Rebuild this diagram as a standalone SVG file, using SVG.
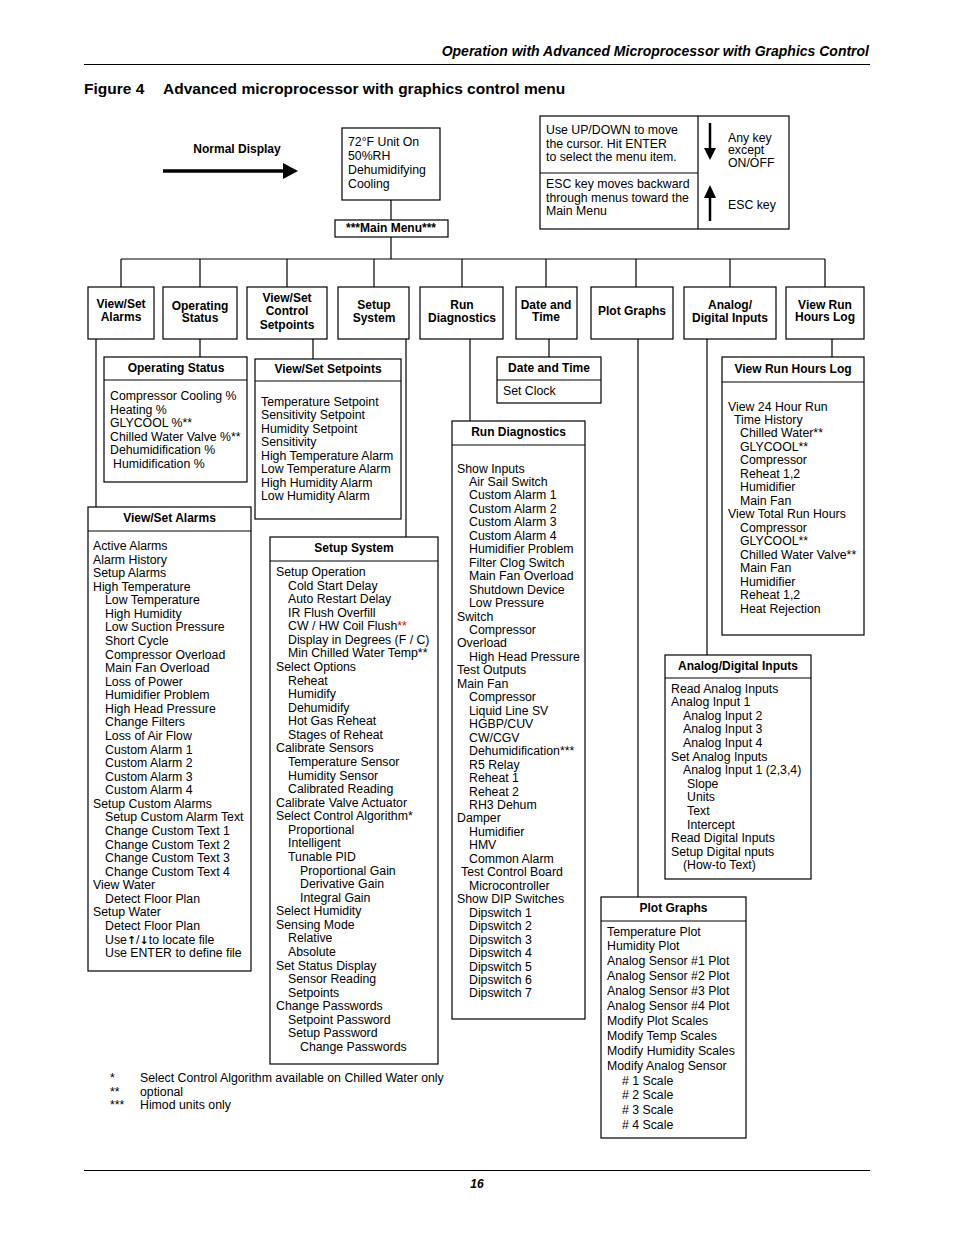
<svg xmlns="http://www.w3.org/2000/svg" width="954" height="1235" viewBox="0 0 954 1235">
<style>
.bg{fill:#fff}
.box{fill:#fff;stroke:#000;stroke-width:1.2}
.ln{fill:none;stroke:#000;stroke-width:1.2}
text{font-family:"Liberation Sans",Arial,Helvetica,sans-serif;font-size:12.3px;fill:#000}
.b{font-weight:bold;font-size:12px}
.c{text-anchor:middle}
.red{fill:#e00}
.arr{font-family:"DejaVu Sans",sans-serif;font-weight:bold;font-size:11px}
</style>
<rect class="bg" x="0" y="0" width="954" height="1235"/>

<!-- page header -->
<g id="page-header">
<text x="869" y="56" style="font-size:14px;font-weight:bold;font-style:italic;text-anchor:end">Operation with Advanced Microprocessor with Graphics Control</text>
<line x1="84" y1="64.5" x2="870" y2="64.5" stroke="#000" stroke-width="1"/>
<text x="84" y="94" style="font-size:15.5px;font-weight:bold">Figure 4</text>
<text x="163" y="94" style="font-size:15.5px;font-weight:bold">Advanced microprocessor with graphics control menu</text>
</g>

<!-- connectors -->
<g id="connectors" class="ln">
<line x1="163" y1="171" x2="285" y2="171" stroke-width="3.5"/>
<path d="M283,163 L298,171 L283,179 z" fill="#000" stroke="none"/>
<line x1="391" y1="200" x2="391" y2="220"/>
<line x1="391" y1="237" x2="391" y2="259"/>
<line x1="121" y1="259" x2="825" y2="259"/>
<line x1="121" y1="259" x2="121" y2="287"/>
<line x1="200" y1="259" x2="200" y2="287"/>
<line x1="287" y1="259" x2="287" y2="287"/>
<line x1="374" y1="259" x2="374" y2="287"/>
<line x1="462" y1="259" x2="462" y2="287"/>
<line x1="546" y1="259" x2="546" y2="287"/>
<line x1="636" y1="259" x2="636" y2="287"/>
<line x1="730" y1="259" x2="730" y2="287"/>
<line x1="825" y1="259" x2="825" y2="287"/>
<line x1="96" y1="339" x2="96" y2="507"/>
<line x1="200" y1="339" x2="200" y2="357"/>
<line x1="313" y1="339" x2="313" y2="359"/>
<line x1="406" y1="339" x2="406" y2="537"/>
<line x1="470" y1="339" x2="470" y2="421"/>
<line x1="549" y1="339" x2="549" y2="357"/>
<line x1="638" y1="339" x2="638" y2="897"/>
<line x1="707" y1="339" x2="707" y2="655"/>
<line x1="832" y1="339" x2="832" y2="357"/>
</g>

<!-- Normal display -->
<g id="normal-display">
<text x="237" y="153" class="b c">Normal Display</text>
</g>
<g id="display-box">
<rect class="box" x="342" y="128" width="98" height="72"/>
<text x="348" y="146">72°F Unit On</text>
<text x="348" y="160">50%RH</text>
<text x="348" y="174">Dehumidifying</text>
<text x="348" y="188">Cooling</text>
</g>
<g id="main-menu">
<rect class="box" x="335" y="220" width="113" height="17"/>
<text x="391" y="232" class="b c">***Main Menu***</text>
</g>

<!-- legend -->
<g id="legend">
<rect class="box" x="540" y="116" width="249" height="113"/>
<line class="ln" x1="698" y1="116" x2="698" y2="229"/>
<line class="ln" x1="540" y1="173" x2="698" y2="173"/>
<text x="546" y="134">Use UP/DOWN to move</text>
<text x="546" y="148">the cursor. Hit ENTER</text>
<text x="546" y="161">to select the menu item.</text>
<text x="546" y="188">ESC key moves backward</text>
<text x="546" y="202">through menus toward the</text>
<text x="546" y="215">Main Menu</text>
<line x1="710" y1="123" x2="710" y2="150" stroke="#000" stroke-width="2.5"/>
<path d="M704,148 L710,160 L716,148 z" fill="#000"/>
<line x1="710" y1="221" x2="710" y2="196" stroke="#000" stroke-width="2.5"/>
<path d="M704,198 L710,185 L716,198 z" fill="#000"/>
<text x="728" y="142">Any key</text>
<text x="728" y="154">except</text>
<text x="728" y="167">ON/OFF</text>
<text x="728" y="209">ESC key</text>
</g>

<!-- main menu items -->
<g id="m-alarms">
<rect class="box" x="88" y="287" width="66" height="52"/>
<text x="121" y="308" class="b c">View/Set</text>
<text x="121" y="321" class="b c">Alarms</text>
</g>
<g id="m-opstatus">
<rect class="box" x="163" y="287" width="74" height="52"/>
<text x="200" y="310" class="b c">Operating</text>
<text x="200" y="322" class="b c">Status</text>
</g>
<g id="m-setpoints">
<rect class="box" x="247" y="287" width="80" height="52"/>
<text x="287" y="302" class="b c">View/Set</text>
<text x="287" y="315" class="b c">Control</text>
<text x="287" y="329" class="b c">Setpoints</text>
</g>
<g id="m-setup">
<rect class="box" x="338" y="287" width="71" height="52"/>
<text x="374" y="309" class="b c">Setup</text>
<text x="374" y="322" class="b c">System</text>
</g>
<g id="m-rundiag">
<rect class="box" x="420" y="287" width="83" height="52"/>
<text x="462" y="309" class="b c">Run</text>
<text x="462" y="322" class="b c">Diagnostics</text>
</g>
<g id="m-datetime">
<rect class="box" x="516" y="287" width="61" height="52"/>
<text x="546" y="309" class="b c">Date and</text>
<text x="546" y="321" class="b c">Time</text>
</g>
<g id="m-plot">
<rect class="box" x="591" y="287" width="82" height="52"/>
<text x="632" y="315" class="b c">Plot Graphs</text>
</g>
<g id="m-analog">
<rect class="box" x="684" y="287" width="92" height="52"/>
<text x="730" y="309" class="b c">Analog/</text>
<text x="730" y="322" class="b c">Digital Inputs</text>
</g>
<g id="m-runhours">
<rect class="box" x="786" y="287" width="78" height="52"/>
<text x="825" y="309" class="b c">View Run</text>
<text x="825" y="321" class="b c">Hours Log</text>
</g>

<!-- Operating Status sub -->
<g id="s-opstatus">
<rect class="box" x="104" y="357" width="143" height="125"/>
<line class="ln" x1="104" y1="380" x2="247" y2="380"/>
<text x="176" y="372" class="b c">Operating Status</text>
<text y="400">
<tspan x="110">Compressor Cooling %</tspan>
<tspan x="110" dy="13.6">Heating %</tspan>
<tspan x="110" dy="13.6">GLYCOOL %**</tspan>
<tspan x="110" dy="13.6">Chilled Water Valve %**</tspan>
<tspan x="110" dy="13.6">Dehumidification %</tspan>
<tspan x="113" dy="13.6">Humidification %</tspan>
</text>
</g>

<!-- View/Set Setpoints sub -->
<g id="s-setpoints">
<rect class="box" x="255" y="359" width="146" height="160"/>
<line class="ln" x1="255" y1="381" x2="401" y2="381"/>
<text x="328" y="373" class="b c">View/Set Setpoints</text>
<text y="405.5">
<tspan x="261">Temperature Setpoint</tspan>
<tspan x="261" dy="13.57">Sensitivity Setpoint</tspan>
<tspan x="261" dy="13.57">Humidity Setpoint</tspan>
<tspan x="261" dy="13.57">Sensitivity</tspan>
<tspan x="261" dy="13.57">High Temperature Alarm</tspan>
<tspan x="261" dy="13.57">Low Temperature Alarm</tspan>
<tspan x="261" dy="13.57">High Humidity Alarm</tspan>
<tspan x="261" dy="13.57">Low Humidity Alarm</tspan>
</text>
</g>

<!-- View/Set Alarms sub -->
<g id="s-alarms">
<rect class="box" x="88" y="507" width="163" height="464"/>
<line class="ln" x1="88" y1="531" x2="251" y2="531"/>
<text x="169.5" y="522" class="b c">View/Set Alarms</text>
<text y="550">
<tspan x="93">Active Alarms</tspan>
<tspan x="93" dy="13.57">Alarm History</tspan>
<tspan x="93" dy="13.57">Setup Alarms</tspan>
<tspan x="93" dy="13.57">High Temperature</tspan>
<tspan x="105" dy="13.57">Low Temperature</tspan>
<tspan x="105" dy="13.57">High Humidity</tspan>
<tspan x="105" dy="13.57">Low Suction Pressure</tspan>
<tspan x="105" dy="13.57">Short Cycle</tspan>
<tspan x="105" dy="13.57">Compressor Overload</tspan>
<tspan x="105" dy="13.57">Main Fan Overload</tspan>
<tspan x="105" dy="13.57">Loss of Power</tspan>
<tspan x="105" dy="13.57">Humidifier Problem</tspan>
<tspan x="105" dy="13.57">High Head Pressure</tspan>
<tspan x="105" dy="13.57">Change Filters</tspan>
<tspan x="105" dy="13.57">Loss of Air Flow</tspan>
<tspan x="105" dy="13.57">Custom Alarm 1</tspan>
<tspan x="105" dy="13.57">Custom Alarm 2</tspan>
<tspan x="105" dy="13.57">Custom Alarm 3</tspan>
<tspan x="105" dy="13.57">Custom Alarm 4</tspan>
<tspan x="93" dy="13.57">Setup Custom Alarms</tspan>
<tspan x="105" dy="13.57">Setup Custom Alarm Text</tspan>
<tspan x="105" dy="13.57">Change Custom Text 1</tspan>
<tspan x="105" dy="13.57">Change Custom Text 2</tspan>
<tspan x="105" dy="13.57">Change Custom Text 3</tspan>
<tspan x="105" dy="13.57">Change Custom Text 4</tspan>
<tspan x="93" dy="13.57">View Water</tspan>
<tspan x="105" dy="13.57">Detect Floor Plan</tspan>
<tspan x="93" dy="13.57">Setup Water</tspan>
<tspan x="105" dy="13.57">Detect Floor Plan</tspan>
<tspan x="105" dy="13.57">Use<tspan class="arr">↑</tspan>/<tspan class="arr">↓</tspan>to locate file</tspan>
<tspan x="105" dy="13.57">Use ENTER to  define file</tspan>
</text>
</g>

<!-- Setup System sub -->
<g id="s-setup">
<rect class="box" x="270" y="537" width="168" height="527"/>
<line class="ln" x1="270" y1="561" x2="438" y2="561"/>
<text x="354" y="552" class="b c">Setup System</text>
<text y="576">
<tspan x="276">Setup Operation</tspan>
<tspan x="288" dy="13.57">Cold Start Delay</tspan>
<tspan x="288" dy="13.57">Auto Restart Delay</tspan>
<tspan x="288" dy="13.57">IR Flush Overfill</tspan>
<tspan x="288" dy="13.57">CW / HW Coil Flush<tspan class="red">**</tspan></tspan>
<tspan x="288" dy="13.57">Display in Degrees (F / C)</tspan>
<tspan x="288" dy="13.57">Min Chilled Water Temp**</tspan>
<tspan x="276" dy="13.57">Select Options</tspan>
<tspan x="288" dy="13.57">Reheat</tspan>
<tspan x="288" dy="13.57">Humidify</tspan>
<tspan x="288" dy="13.57">Dehumidify</tspan>
<tspan x="288" dy="13.57">Hot Gas Reheat</tspan>
<tspan x="288" dy="13.57">Stages of Reheat</tspan>
<tspan x="276" dy="13.57">Calibrate Sensors</tspan>
<tspan x="288" dy="13.57">Temperature Sensor</tspan>
<tspan x="288" dy="13.57">Humidity Sensor</tspan>
<tspan x="288" dy="13.57">Calibrated Reading</tspan>
<tspan x="276" dy="13.57">Calibrate Valve Actuator</tspan>
<tspan x="276" dy="13.57">Select Control Algorithm*</tspan>
<tspan x="288" dy="13.57">Proportional</tspan>
<tspan x="288" dy="13.57">Intelligent</tspan>
<tspan x="288" dy="13.57">Tunable PID</tspan>
<tspan x="300" dy="13.57">Proportional Gain</tspan>
<tspan x="300" dy="13.57">Derivative Gain</tspan>
<tspan x="300" dy="13.57">Integral Gain</tspan>
<tspan x="276" dy="13.57">Select Humidity</tspan>
<tspan x="276" dy="13.57">Sensing Mode</tspan>
<tspan x="288" dy="13.57">Relative</tspan>
<tspan x="288" dy="13.57">Absolute</tspan>
<tspan x="276" dy="13.57">Set Status Display</tspan>
<tspan x="288" dy="13.57">Sensor Reading</tspan>
<tspan x="288" dy="13.57">Setpoints</tspan>
<tspan x="276" dy="13.57">Change Passwords</tspan>
<tspan x="288" dy="13.57">Setpoint Password</tspan>
<tspan x="288" dy="13.57">Setup Password</tspan>
<tspan x="300" dy="13.57">Change Passwords</tspan>
</text>
</g>

<!-- Run Diagnostics sub -->
<g id="s-rundiag">
<rect class="box" x="452" y="421" width="133" height="598"/>
<line class="ln" x1="452" y1="445" x2="585" y2="445"/>
<text x="518.5" y="436" class="b c">Run Diagnostics</text>
<text y="472.5">
<tspan x="457">Show Inputs</tspan>
<tspan x="469" dy="13.46">Air Sail Switch</tspan>
<tspan x="469" dy="13.46">Custom Alarm 1</tspan>
<tspan x="469" dy="13.46">Custom Alarm 2</tspan>
<tspan x="469" dy="13.46">Custom Alarm 3</tspan>
<tspan x="469" dy="13.46">Custom Alarm 4</tspan>
<tspan x="469" dy="13.46">Humidifier Problem</tspan>
<tspan x="469" dy="13.46">Filter Clog Switch</tspan>
<tspan x="469" dy="13.46">Main Fan Overload</tspan>
<tspan x="469" dy="13.46">Shutdown Device</tspan>
<tspan x="469" dy="13.46">Low Pressure</tspan>
<tspan x="457" dy="13.46">Switch</tspan>
<tspan x="469" dy="13.46">Compressor</tspan>
<tspan x="457" dy="13.46">Overload</tspan>
<tspan x="469" dy="13.46">High Head Pressure</tspan>
<tspan x="457" dy="13.46">Test Outputs</tspan>
<tspan x="457" dy="13.46">Main Fan</tspan>
<tspan x="469" dy="13.46">Compressor</tspan>
<tspan x="469" dy="13.46">Liquid Line SV</tspan>
<tspan x="469" dy="13.46">HGBP/CUV</tspan>
<tspan x="469" dy="13.46">CW/CGV</tspan>
<tspan x="469" dy="13.46">Dehumidification***</tspan>
<tspan x="469" dy="13.46">R5 Relay</tspan>
<tspan x="469" dy="13.46">Reheat 1</tspan>
<tspan x="469" dy="13.46">Reheat 2</tspan>
<tspan x="469" dy="13.46">RH3 Dehum</tspan>
<tspan x="457" dy="13.46">Damper</tspan>
<tspan x="469" dy="13.46">Humidifier</tspan>
<tspan x="469" dy="13.46">HMV</tspan>
<tspan x="469" dy="13.46">Common Alarm</tspan>
<tspan x="461" dy="13.46">Test Control Board</tspan>
<tspan x="469" dy="13.46">Microcontroller</tspan>
<tspan x="457" dy="13.46">Show DIP Switches</tspan>
<tspan x="469" dy="13.46">Dipswitch 1</tspan>
<tspan x="469" dy="13.46">Dipswitch 2</tspan>
<tspan x="469" dy="13.46">Dipswitch 3</tspan>
<tspan x="469" dy="13.46">Dipswitch 4</tspan>
<tspan x="469" dy="13.46">Dipswitch 5</tspan>
<tspan x="469" dy="13.46">Dipswitch 6</tspan>
<tspan x="469" dy="13.46">Dipswitch 7</tspan>
</text>
</g>

<!-- Date and Time sub -->
<g id="s-datetime">
<rect class="box" x="497" y="357" width="104" height="46"/>
<line class="ln" x1="497" y1="380" x2="601" y2="380"/>
<text x="549" y="372" class="b c">Date and Time</text>
<text x="503" y="395">Set Clock</text>
</g>

<!-- View Run Hours Log sub -->
<g id="s-runhours">
<rect class="box" x="722" y="357" width="142" height="278"/>
<line class="ln" x1="722" y1="382" x2="864" y2="382"/>
<text x="793" y="373" class="b c">View Run Hours Log</text>
<text y="410.5">
<tspan x="728">View 24 Hour Run</tspan>
<tspan x="734" dy="13.47">Time History</tspan>
<tspan x="740" dy="13.47">Chilled Water**</tspan>
<tspan x="740" dy="13.47">GLYCOOL**</tspan>
<tspan x="740" dy="13.47">Compressor</tspan>
<tspan x="740" dy="13.47">Reheat 1,2</tspan>
<tspan x="740" dy="13.47">Humidifier</tspan>
<tspan x="740" dy="13.47">Main Fan</tspan>
<tspan x="728" dy="13.47">View Total Run Hours</tspan>
<tspan x="740" dy="13.47">Compressor</tspan>
<tspan x="740" dy="13.47">GLYCOOL**</tspan>
<tspan x="740" dy="13.47">Chilled Water Valve**</tspan>
<tspan x="740" dy="13.47">Main Fan</tspan>
<tspan x="740" dy="13.47">Humidifier</tspan>
<tspan x="740" dy="13.47">Reheat 1,2</tspan>
<tspan x="740" dy="13.47">Heat Rejection</tspan>
</text>
</g>

<!-- Analog/Digital Inputs sub -->
<g id="s-analog">
<rect class="box" x="665" y="655" width="146" height="224"/>
<line class="ln" x1="665" y1="678" x2="811" y2="678"/>
<text x="738" y="670" class="b c">Analog/Digital Inputs</text>
<text y="692.5">
<tspan x="671">Read Analog Inputs</tspan>
<tspan x="671" dy="13.6">Analog Input 1</tspan>
<tspan x="683" dy="13.6">Analog Input 2</tspan>
<tspan x="683" dy="13.6">Analog Input 3</tspan>
<tspan x="683" dy="13.6">Analog Input 4</tspan>
<tspan x="671" dy="13.6">Set Analog Inputs</tspan>
<tspan x="683" dy="13.6">Analog Input 1 (2,3,4)</tspan>
<tspan x="687" dy="13.6">Slope</tspan>
<tspan x="687" dy="13.6">Units</tspan>
<tspan x="687" dy="13.6">Text</tspan>
<tspan x="687" dy="13.6">Intercept</tspan>
<tspan x="671" dy="13.6">Read Digital Inputs</tspan>
<tspan x="671" dy="13.6">Setup Digital nputs</tspan>
<tspan x="683" dy="13.6">(How-to Text)</tspan>
</text>
</g>

<!-- Plot Graphs sub -->
<g id="s-plot">
<rect class="box" x="601" y="897" width="145" height="241"/>
<line class="ln" x1="601" y1="921" x2="746" y2="921"/>
<text x="673.5" y="912" class="b c">Plot Graphs</text>
<text y="935.5">
<tspan x="607">Temperature Plot</tspan>
<tspan x="607" dy="14.9">Humidity Plot</tspan>
<tspan x="607" dy="14.9">Analog Sensor #1 Plot</tspan>
<tspan x="607" dy="14.9">Analog Sensor #2 Plot</tspan>
<tspan x="607" dy="14.9">Analog Sensor #3 Plot</tspan>
<tspan x="607" dy="14.9">Analog Sensor #4 Plot</tspan>
<tspan x="607" dy="14.9">Modify Plot Scales</tspan>
<tspan x="607" dy="14.9">Modify Temp Scales</tspan>
<tspan x="607" dy="14.9">Modify Humidity Scales</tspan>
<tspan x="607" dy="14.9">Modify Analog Sensor</tspan>
<tspan x="622" dy="14.9"># 1 Scale</tspan>
<tspan x="622" dy="14.9"># 2 Scale</tspan>
<tspan x="622" dy="14.9"># 3 Scale</tspan>
<tspan x="622" dy="14.9"># 4 Scale</tspan>
</text>
</g>

<!-- footnotes -->
<g id="footnotes">
<text x="110" y="1082">*</text>
<text x="140" y="1082">Select Control Algorithm available on Chilled Water only</text>
<text x="110" y="1096">**</text>
<text x="140" y="1096">optional</text>
<text x="110" y="1109">***</text>
<text x="140" y="1109">Himod units only</text>
</g>

<!-- page footer -->
<g id="page-footer">
<line x1="84" y1="1170.5" x2="870" y2="1170.5" stroke="#000" stroke-width="1"/>
<text x="477" y="1188" class="b c" style="font-style:italic">16</text>
</g>
</svg>
